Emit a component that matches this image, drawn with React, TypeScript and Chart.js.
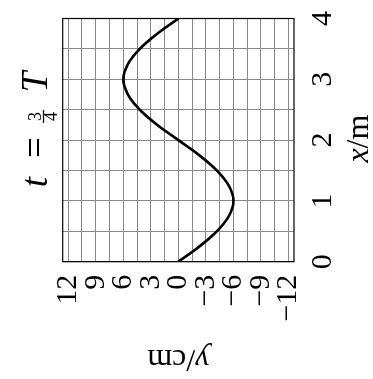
import React, { useEffect, useRef } from "react";
import { Chart, registerables } from "chart.js";

Chart.register(...registerables);

// ---- data ----
const xValues = [0, 0.25, 0.5, 0.75, 1, 1.25, 1.5, 1.75, 2, 2.25, 2.5, 2.75, 3, 3.25, 3.5, 3.75, 4];
const yValues = [0, -2.3, -4.2, -5.5, -6, -5.5, -4.2, -2.3, 0, 2.3, 4.2, 5.5, 6, 5.5, 4.2, 2.3, 0];

const xGridLines = [0, 0.5, 1, 1.5, 2, 2.5, 3, 3.5, 4];
const xTickLabels = [0, 1, 2, 3, 4];
const yGridLines = [-12, -10.5, -9, -7.5, -6, -4.5, -3, -1.5, 0, 1.5, 3, 4.5, 6, 7.5, 9, 10.5, 12];
const yTickLabels = [-12, -9, -6, -3, 0, 3, 6, 9, 12];

const xAxisTitle = ["x", "/m"];
const yAxisTitle = ["y", "/cm"];
const titleParts = ["t", "=", "3", "4", "T"];

const FONT = "'Liberation Serif', 'Times New Roman', serif";

const textPlugin = {
  id: "texts",
  afterDraw(chart: any) {
    const ctx: CanvasRenderingContext2D = chart.ctx;
    const a = chart.chartArea;
    ctx.save();
    // frame
    ctx.strokeStyle = "#000";
    ctx.lineWidth = 1.2;
    ctx.strokeRect(a.left, a.top, a.right - a.left, a.bottom - a.top);

    ctx.fillStyle = "#000";
    ctx.textBaseline = "alphabetic";
    ctx.textAlign = "center";
    // title: t = 3/4 T
    const base = 47;
    ctx.font = `italic 37px ${FONT}`;
    ctx.fillText(titleParts[0], 197, base);
    ctx.font = `37px ${FONT}`;
    ctx.fillText(titleParts[1], 231.5, base);
    ctx.font = `18px ${FONT}`;
    ctx.fillText(titleParts[2], 262.5, 41);
    ctx.fillText(titleParts[3], 262.5, 57);
    ctx.lineWidth = 1.3;
    ctx.beginPath();
    ctx.moveTo(256, 43.5);
    ctx.lineTo(269, 43.5);
    ctx.stroke();
    ctx.font = `italic 37px ${FONT}`;
    ctx.fillText(titleParts[4], 297, base);

    // x axis title
    ctx.textAlign = "left";
    ctx.font = `italic 32px ${FONT}`;
    const w1 = ctx.measureText(xAxisTitle[0]).width;
    ctx.font = `32px ${FONT}`;
    const w2 = ctx.measureText(xAxisTitle[1]).width;
    const cx = (a.left + a.right) / 2 + 1.5;
    let sx = cx - (w1 + w2) / 2;
    ctx.font = `italic 32px ${FONT}`;
    ctx.fillText(xAxisTitle[0], sx, 368);
    ctx.font = `32px ${FONT}`;
    ctx.fillText(xAxisTitle[1], sx + w1, 368);

    // y axis title (rotated)
    ctx.translate(29, (a.top + a.bottom) / 2);
    ctx.rotate(-Math.PI / 2);
    ctx.font = `italic 32px ${FONT}`;
    const v1 = ctx.measureText(yAxisTitle[0]).width;
    ctx.font = `32px ${FONT}`;
    const v2 = ctx.measureText(yAxisTitle[1]).width;
    let sy = -(v1 + v2) / 2;
    ctx.font = `italic 32px ${FONT}`;
    ctx.fillText(yAxisTitle[0], sy, 0);
    ctx.font = `32px ${FONT}`;
    ctx.fillText(yAxisTitle[1], sy + v1, 0);
    ctx.restore();
  },
};

const fmt = (v: number) => (v < 0 ? "\u2212" + Math.abs(v) : String(v));

export default function App() {
  const ref = useRef<HTMLCanvasElement>(null);
  useEffect(() => {
    const chart = new Chart(ref.current as HTMLCanvasElement, {
      type: "scatter",
      data: {
        datasets: [
          {
            data: xValues.map((x, i) => ({ x, y: yValues[i] })),
            showLine: true,
            borderColor: "#000",
            borderWidth: 2.7,
            pointRadius: 0,
            fill: false,
            cubicInterpolationMode: "monotone",
          } as any,
        ],
      },
      options: {
        responsive: false,
        maintainAspectRatio: false,
        animation: false,
        devicePixelRatio: 1,
        layout: { padding: { top: 62.7, right: 14, left: 0, bottom: 0 } },
        plugins: {
          legend: { display: false },
          tooltip: { enabled: false },
          title: { display: false },
        },
        scales: {
          x: {
            type: "linear",
            position: "bottom",
            min: 0,
            max: 4,
            afterBuildTicks: (s: any) => {
              s.ticks = xGridLines.map((v) => ({ value: v }));
            },
            afterFit: (s: any) => {
              s.height = 79;
            },
            ticks: {
              callback: (v: any) => (xTickLabels.includes(Number(v)) ? fmt(Number(v)) : ""),
              font: { family: FONT, size: 30 },
              color: "#000",
              padding: 11,
              maxRotation: 0,
              minRotation: 0,
              autoSkip: false,
            },
            grid: { color: "#888", lineWidth: 1, drawTicks: false },
            border: { display: false },
          },
          y: {
            type: "linear",
            position: "left",
            min: -12.6,
            max: 12.6,
            afterBuildTicks: (s: any) => {
              s.ticks = yGridLines.map((v) => ({ value: v }));
            },
            afterFit: (s: any) => {
              s.width = 117.3;
            },
            ticks: {
              callback: (v: any) => (yTickLabels.includes(Number(v)) ? fmt(Number(v)) : ""),
              font: { family: FONT, size: 30 },
              color: "#000",
              padding: 13,
              autoSkip: false,
            },
            grid: { color: "#888", lineWidth: 1, drawTicks: false },
            border: { display: false },
          },
        },
      } as any,
      plugins: [textPlugin],
    });
    return () => chart.destroy();
  }, []);

  return (
    <div
      style={{
        position: "fixed",
        left: 0,
        top: 0,
        width: 373,
        height: 379,
        overflow: "hidden",
        background: "#fff",
      }}
    >
      <div
        style={{
          position: "absolute",
          left: -3,
          top: 3,
          width: 379,
          height: 373,
          transform: "rotate(-90deg)",
          transformOrigin: "50% 50%",
        }}
      >
        <canvas ref={ref} width={379} height={373} style={{ width: 379, height: 373, display: "block" }} />
      </div>
    </div>
  );
}
